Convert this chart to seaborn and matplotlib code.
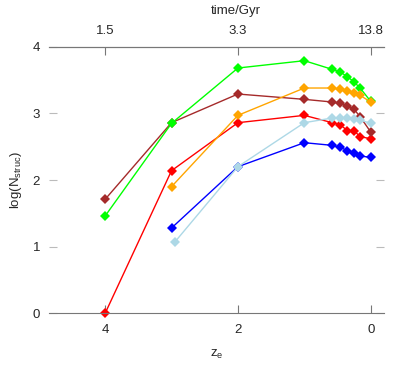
import matplotlib
matplotlib.use("Agg")
import matplotlib.pyplot as plt
import pandas as pd
import seaborn as sns

sns.set_style("ticks")
plt.rcParams["font.family"] = ["Liberation Sans", "DejaVu Sans"]
plt.rcParams["mathtext.fontset"] = "custom"
plt.rcParams["mathtext.rm"] = "Liberation Sans"
plt.rcParams["mathtext.it"] = "Liberation Sans"

# redshift grid of the snapshots
z_main = [4, 3, 2, 1, 0.58, 0.46, 0.35, 0.25, 0.16, 0.0]
z_late = [3, 2, 1, 0.58, 0.46, 0.35, 0.25, 0.16, 0.0]
z_lb = [2.95, 2, 1, 0.58, 0.46, 0.35, 0.25, 0.16, 0.0]

blue = [1.28, 2.20, 2.56, 2.52, 2.49, 2.44, 2.40, 2.36, 2.34]
red = [0.00, 2.14, 2.86, 2.97, 2.86, 2.83, 2.74, 2.74, 2.65, 2.62]
brown = [1.71, 2.86, 3.29, 3.21, 3.17, 3.15, 3.11, 3.06, 2.95, 2.72]
green = [1.46, 2.85, 3.68, 3.79, 3.66, 3.62, 3.55, 3.47, 3.38, 3.18]
orange = [1.90, 2.97, 3.38, 3.38, 3.36, 3.34, 3.31, 3.27, 3.17]
lightblue = [1.07, 2.20, 2.86, 2.93, 2.93, 2.93, 2.91, 2.90, 2.85]

top_ticks_z = [4, 2, 0]
top_labels = ["1.5", "3.3", "13.8"]

series = [
    ("blue", z_late, blue),
    ("red", z_main, red),
    ("brown", z_main, brown),
    ("lime", z_main, green),
    ("orange", z_late, orange),
    ("lightblue", z_lb, lightblue),
]
rows = []
for name, zs, vals in series:
    for z, v in zip(zs, vals):
        rows.append({"set": name, "z": z, "logN": v})
df = pd.DataFrame(rows)
palette = {name: name for name, _, _ in series}

fig = plt.figure(figsize=(4.07, 3.78), dpi=100)
ax = fig.add_axes([0.1204, 0.171, 0.8231, 0.7055])

sns.lineplot(data=df, x="z", y="logN", hue="set", palette=palette,
             hue_order=[s[0] for s in series], marker="D", markersize=5,
             markeredgewidth=0, linewidth=1, estimator=None, sort=False,
             legend=False, ax=ax, clip_on=False)

ax.set_xlim(4.845, -0.2)
ax.set_ylim(0, 4)
ax.set_xticks([4, 2, 0])
ax.set_yticks([0, 1, 2, 3, 4])
for side in ["left", "right"]:
    ax.spines[side].set_visible(False)
for side in ["top", "bottom"]:
    ax.spines[side].set_color("#777777")
ax.tick_params(axis="x", direction="in", length=6, color="#777777",
               labelsize=9.5, pad=8)
ax.tick_params(axis="y", direction="in", length=6, color="#bbbbbb",
               labelsize=9.5, pad=6.5, right=True)
ax.set_xlabel(r"z$_\mathregular{e}$", fontsize=9.5, labelpad=8)
ax.set_ylabel(r"log(N$_\mathregular{struc}$)", fontsize=9.5, labelpad=6)

ax2 = ax.twiny()
ax2.set_xlim(ax.get_xlim())
ax2.set_xticks(top_ticks_z)
ax2.set_xticklabels(top_labels)
for side in ["left", "right", "bottom"]:
    ax2.spines[side].set_visible(False)
ax2.spines["top"].set_color("#777777")
ax2.tick_params(axis="x", direction="in", length=6, color="#777777",
                labelsize=9.5, pad=7)
# top axis title sits above the middle tick
fig.text(236 / 407, 1 - 11 / 378, "time/Gyr", ha="center", va="center",
         fontsize=9.5)

fig.savefig("out.png", dpi=100)
